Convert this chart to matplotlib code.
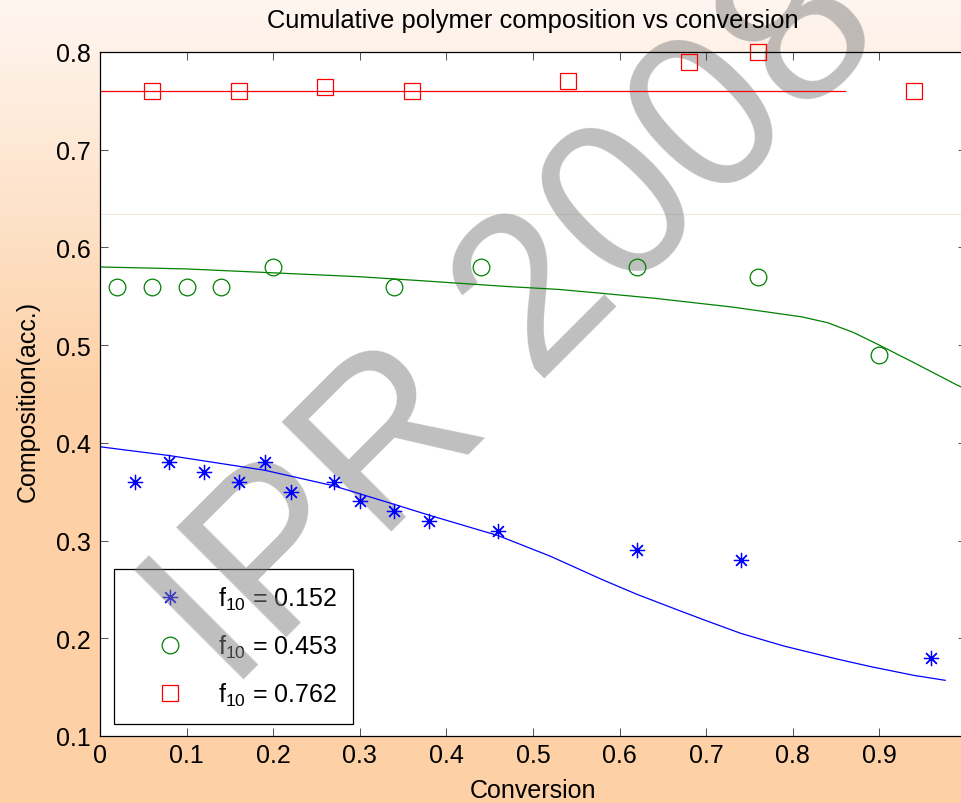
import numpy as np
import matplotlib.pyplot as plt
from matplotlib.colors import LinearSegmentedColormap

plt.rcParams['font.family'] = ['Liberation Sans', 'DejaVu Sans']
plt.rcParams['mathtext.default'] = 'regular'

# experimental points, f10 = 0.152 / 0.453 / 0.762
conv_a = [0.04, 0.08, 0.12, 0.16, 0.19, 0.22, 0.27, 0.30, 0.34, 0.38, 0.46, 0.62, 0.74, 0.96]
comp_a = [0.36, 0.38, 0.37, 0.36, 0.38, 0.35, 0.36, 0.34, 0.33, 0.32, 0.31, 0.29, 0.28, 0.18]

conv_b = [0.02, 0.06, 0.10, 0.14, 0.20, 0.34, 0.44, 0.62, 0.76, 0.90]
comp_b = [0.56, 0.56, 0.56, 0.56, 0.58, 0.56, 0.58, 0.58, 0.57, 0.49]

conv_c = [0.06, 0.16, 0.26, 0.36, 0.54, 0.68, 0.76, 0.94]
comp_c = [0.76, 0.76, 0.764, 0.76, 0.77, 0.79, 0.80, 0.76]

# model curves
model_x_a = [0.0, 0.08, 0.19, 0.27, 0.34, 0.38, 0.46, 0.52, 0.58, 0.62, 0.67, 0.70,
             0.74, 0.79, 0.85, 0.89, 0.94, 0.976]
model_a = [0.396, 0.387, 0.372, 0.356, 0.337, 0.326, 0.305, 0.284, 0.260, 0.245, 0.228, 0.218,
           0.205, 0.192, 0.179, 0.171, 0.162, 0.157]

model_x_b = [0.0, 0.10, 0.20, 0.30, 0.37, 0.47, 0.53, 0.58, 0.64, 0.69, 0.73, 0.77, 0.81, 0.84,
             0.87, 0.90, 0.94, 0.99, 1.0]
model_b = [0.580, 0.578, 0.574, 0.570, 0.566, 0.560, 0.557, 0.553, 0.548, 0.543, 0.539, 0.534,
           0.529, 0.523, 0.513, 0.500, 0.482, 0.459, 0.455]

model_x_c = [0.0, 0.86]
model_c = [0.76, 0.76]

labels = ['f$_{10}$ = 0.152', 'f$_{10}$ = 0.453', 'f$_{10}$ = 0.762']
xticks = [0, 0.1, 0.2, 0.3, 0.4, 0.5, 0.6, 0.7, 0.8, 0.9]
yticks = [0.1, 0.2, 0.3, 0.4, 0.5, 0.6, 0.7, 0.8]

fig = plt.figure(figsize=(9.62, 8.04), dpi=100)

# peach background
bg = fig.add_axes([0, 0, 1, 1], zorder=-10)
cmap = LinearSegmentedColormap.from_list('peach', ['#fdd0a5', '#fdd0a5', '#fff6f1'])
grad = np.linspace(0, 1, 256).reshape(-1, 1)
bg.imshow(grad, aspect='auto', cmap=cmap, extent=[0, 1, 0, 1], origin='lower')
bg.axis('off')

ax = fig.add_axes([100 / 962, 67 / 804, 866 / 962, 684 / 804])
ax.set_facecolor('white')

ax.axhline(0.634, color='#f3e8dc', lw=0.8, zorder=0.5)

ax.plot(conv_a, comp_a, ls='none', marker=(8, 2, 0), ms=11, mew=0.9, color='#0000ff',
        label=labels[0], clip_on=False)
ax.plot(conv_b, comp_b, ls='none', marker='o', ms=12, mew=0.9, mfc='none', color='#008000',
        label=labels[1], clip_on=False)
ax.plot(conv_c, comp_c, ls='none', marker='s', ms=12, mew=0.9, mfc='none', color='#ff0000',
        label=labels[2], clip_on=False)

ax.plot(model_x_a, model_a, color='#0000ff', lw=0.9)
ax.plot(model_x_b, model_b, color='#008000', lw=0.9)
ax.plot(model_x_c, model_c, color='#ff0000', lw=0.9)

ax.set_xlim(0, 1)
ax.set_ylim(0.1, 0.8)
ax.set_xticks(xticks)
ax.set_xticklabels([f'{t:g}' for t in xticks])
ax.set_yticks(yticks)
ax.set_yticklabels([f'{t:g}' for t in yticks])
ax.tick_params(direction='in', length=6, width=0.6, top=True, right=True,
               labelsize=18, color='#333333')
ax.tick_params(axis='x', pad=5)
ax.tick_params(axis='y', pad=6.5)
for s in ax.spines.values():
    s.set_linewidth(0.9)

ax.set_title('Cumulative polymer composition vs conversion', fontsize=18.4, pad=18)
ax.set_xlabel('Conversion', fontsize=18)
ax.set_ylabel('Composition(acc.)', fontsize=18)
ax.xaxis.set_label_coords(0.5, -0.062)
ax.yaxis.set_label_coords(-0.069, 0.49)

leg = ax.legend(loc='lower left', bbox_to_anchor=(0.0162, 0.0175), borderaxespad=0,
                fontsize=18, fancybox=False, framealpha=1, edgecolor='black',
                handlelength=3.2, handletextpad=0.3, borderpad=0.65, labelspacing=0.82)
leg.get_frame().set_linewidth(0.9)
leg.set_zorder(1)

# watermark
ax.text(230 / 962, 1 - 694 / 804, 'IPR 2008', transform=fig.transFigure,
        fontsize=161, rotation=45, rotation_mode='anchor', ha='left', va='baseline',
        color='#808080', alpha=0.5, zorder=1.5, clip_on=False)

fig.savefig('out.png', dpi=100)
